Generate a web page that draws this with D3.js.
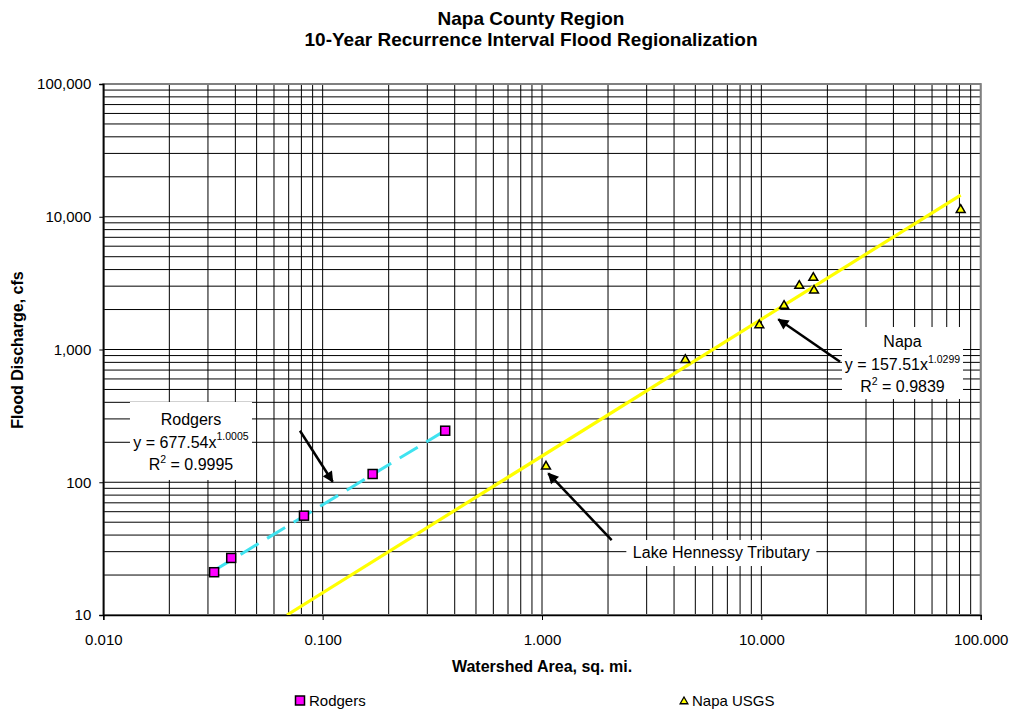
<!DOCTYPE html>
<html>
<head>
<meta charset="utf-8">
<script src="https://cdn.jsdelivr.net/npm/d3@7"></script>
<style>
  html, body { margin: 0; padding: 0; background: #fff; }
  svg { display: block; font-family: "Liberation Sans", Arial, sans-serif; }
</style>
</head>
<body>
<svg id="chart" width="1011" height="713"></svg>
<script>
// Watershed area (sq. mi.) and 10-year flood discharge (cfs)
const rodgersArea = [0.0320, 0.0383, 0.0822, 0.169, 0.362];
const rodgersQ    = [21.0, 26.9, 56.0, 115.4, 244.5];

const napaArea = [1.043, 4.50, 9.79, 12.69, 14.89, 17.25, 17.38, 81.05];
const napaQ    = [132.6, 843, 1538, 2153, 3045, 3499, 2806, 11376];

// Power-law fits  y = a * x^b
const rodgersFit = { a: 677.54, b: 1.0005, r2: "0.9995" };
const napaFit    = { a: 157.51, b: 1.0299, r2: "0.9839" };

const xTicks = [0.01, 0.1, 1, 10, 100];
const xTickLabels = ["0.010", "0.100", "1.000", "10.000", "100.000"];
const yTicks = [10, 100, 1000, 10000, 100000];
const yTickLabels = ["10", "100", "1,000", "10,000", "100,000"];

const svg = d3.select("#chart");
const plotL = 103.3, plotR = 980.7, plotT = 84, plotB = 615;

const x = d3.scaleLog().domain([0.01, 100]).range([plotL, plotR]);
const y = d3.scaleLog().domain([10, 100000]).range([plotB, plotT]);

// minor + major grid values
const gridVals = (lo, hi) => {
  const out = [];
  for (let d = lo; d < hi * 0.999; d *= 10)
    for (let k = 1; k <= 9; k++) out.push(d * k);
  out.push(hi);
  return out;
};

const defs = svg.append("defs");
defs.append("clipPath").attr("id", "plotClip")
  .append("rect").attr("x", plotL).attr("y", plotT)
  .attr("width", plotR - plotL).attr("height", plotB - plotT);
const arrow = defs.append("marker").attr("id", "arrowHead")
  .attr("viewBox", "0 0 10 10").attr("refX", 9).attr("refY", 5)
  .attr("markerWidth", 5).attr("markerHeight", 4.4)
  .attr("markerUnits", "strokeWidth").attr("orient", "auto");
arrow.append("path").attr("d", "M0,0 L10,5 L0,10 Z").attr("fill", "#000");

// Grid
const grid = svg.append("g");
grid.selectAll("line.v").data(gridVals(0.01, 100)).join("line")
  .attr("x1", d => x(d)).attr("x2", d => x(d))
  .attr("y1", plotT).attr("y2", plotB)
  .attr("stroke", "#000").attr("stroke-width", 1);
grid.selectAll("line.h").data(gridVals(10, 100000)).join("line")
  .attr("x1", plotL).attr("x2", plotR)
  .attr("y1", d => y(d)).attr("y2", d => y(d))
  .attr("stroke", "#000").attr("stroke-width", 1);

// Plot frame (top/right grey)
svg.append("rect").attr("x", plotL).attr("y", plotT)
  .attr("width", plotR - plotL).attr("height", plotB - plotT)
  .attr("fill", "none").attr("stroke", "#808080").attr("stroke-width", 2);

// Axes
const xAxis = d3.axisBottom(x).tickValues(xTicks)
  .tickFormat((d, i) => xTickLabels[i]).tickSize(5).tickPadding(14);
const yAxis = d3.axisLeft(y).tickValues(yTicks)
  .tickFormat((d, i) => yTickLabels[i]).tickSize(4).tickPadding(8);

const gx = svg.append("g").attr("transform", `translate(0,${plotB})`).call(xAxis);
const gy = svg.append("g").attr("transform", `translate(${plotL},0)`).call(yAxis);
[gx, gy].forEach(g => {
  g.select(".domain").attr("stroke", "#000").attr("stroke-width", 1.5);
  g.selectAll(".tick line").attr("stroke", "#000");
  g.selectAll(".tick text").attr("fill", "#000")
    .style("font-size", "15px").style("font-family", "Liberation Sans, Arial, sans-serif");
});

const plot = svg.append("g").attr("clip-path", "url(#plotClip)");

// Trend lines
const napaX0 = Math.pow(10 / napaFit.a, 1 / napaFit.b);
const napaLine = [napaX0, d3.max(napaArea)].map(v => [v, napaFit.a * Math.pow(v, napaFit.b)]);
plot.append("path")
  .attr("d", d3.line().x(d => x(d[0])).y(d => y(d[1]))(napaLine))
  .attr("fill", "none").attr("stroke", "#ffff00").attr("stroke-width", 3.2);

const rodLine = d3.extent(rodgersArea).map(v => [v, rodgersFit.a * Math.pow(v, rodgersFit.b)]);
plot.append("path")
  .attr("d", d3.line().x(d => x(d[0])).y(d => y(d[1]))(rodLine))
  .attr("fill", "none").attr("stroke", "#3fe3f0").attr("stroke-width", 3)
  .attr("stroke-dasharray", "21,10");

// Rodgers markers
const rodPts = rodgersArea.map((a, i) => [a, rodgersQ[i]]);
plot.selectAll("rect.rod").data(rodPts).join("rect")
  .attr("x", d => x(d[0]) - 4.5).attr("y", d => y(d[1]) - 4.5)
  .attr("width", 9).attr("height", 9)
  .attr("fill", "#ff00ff").attr("stroke", "#000").attr("stroke-width", 1.5);

// Napa markers
const tri = d3.symbol().type(d3.symbolTriangle).size(34);
const napaPts = napaArea.map((a, i) => [a, napaQ[i]]);
plot.selectAll("path.napa").data(napaPts).join("path")
  .attr("d", tri)
  .attr("transform", d => `translate(${x(d[0])},${y(d[1]) + 0.5})`)
  .attr("fill", "#ffff00").attr("stroke", "#000").attr("stroke-width", 1.5);

// Annotation boxes
function fitLabel(cx, cy, w, h, name, fit) {
  const g = svg.append("g");
  g.append("rect").attr("x", cx - w / 2).attr("y", cy - h / 2)
    .attr("width", w).attr("height", h).attr("fill", "#fff");
  const t = g.append("text").attr("text-anchor", "middle")
    .style("font-size", "16px").attr("fill", "#000");
  t.append("tspan").attr("x", cx).attr("y", cy - 16).text(name);
  const eq = g.append("text").attr("text-anchor", "middle")
    .attr("x", cx).attr("y", cy + 7).style("font-size", "16px");
  eq.append("tspan").text(`y = ${fit.a}x`);
  eq.append("tspan").attr("dy", -7.5).style("font-size", "10.5px").text(fit.b.toFixed(4));
  const r = g.append("text").attr("text-anchor", "middle")
    .attr("x", cx).attr("y", cy + 29).style("font-size", "16px");
  r.append("tspan").text("R");
  r.append("tspan").attr("dy", -7).style("font-size", "10.5px").text("2");
  r.append("tspan").attr("dy", 7).text(` = ${fit.r2}`);
}

fitLabel(x(0.0251), y(204.6), 122, 78, "Rodgers", rodgersFit);
fitLabel(x(44.0), y(791), 121, 72, "Napa", napaFit);

// Lake Hennessy label
const lh = svg.append("g");
const lhx = x(6.57), lhy = y(29.3);
lh.append("rect").attr("x", lhx - 95).attr("y", lhy - 13)
  .attr("width", 190).attr("height", 26).attr("fill", "#fff");
lh.append("text").attr("x", lhx).attr("y", lhy + 5).attr("text-anchor", "middle")
  .style("font-size", "16px").text("Lake Hennessy Tributary");

// Arrows (tail -> head, in data units)
const arrows = [
  [[0.0788, 244.5], [0.1111, 100.9]],
  [[22.84, 809], [11.95, 1688]],
  [[2.078, 36.7], [1.068, 116.8]]
];
svg.selectAll("line.arrow").data(arrows).join("line")
  .attr("x1", d => x(d[0][0])).attr("y1", d => y(d[0][1]))
  .attr("x2", d => x(d[1][0])).attr("y2", d => y(d[1][1]))
  .attr("stroke", "#000").attr("stroke-width", 2.5)
  .attr("marker-end", "url(#arrowHead)");

// Titles
const title = svg.append("text").attr("text-anchor", "middle")
  .style("font-size", "19px").style("font-weight", "bold");
title.append("tspan").attr("x", 531).attr("y", 25).text("Napa County Region");
title.append("tspan").attr("x", 531).attr("y", 46).text("10-Year Recurrence Interval Flood Regionalization");

svg.append("text").attr("x", 542).attr("y", 672).attr("text-anchor", "middle")
  .style("font-size", "16px").style("font-weight", "bold").text("Watershed Area, sq. mi.");
svg.append("text").attr("transform", "translate(23,350) rotate(-90)")
  .attr("text-anchor", "middle")
  .style("font-size", "16px").style("font-weight", "bold").text("Flood Discharge, cfs");

// Legend
const leg = svg.append("g");
leg.append("rect").attr("x", 295.5).attr("y", 696).attr("width", 9).attr("height", 9)
  .attr("fill", "#ff00ff").attr("stroke", "#000").attr("stroke-width", 1.5);
leg.append("text").attr("x", 309).attr("y", 706).style("font-size", "15px").text("Rodgers");
leg.append("path").attr("d", d3.symbol().type(d3.symbolTriangle).size(26))
  .attr("transform", "translate(684,701.5)")
  .attr("fill", "#ffff00").attr("stroke", "#000").attr("stroke-width", 1.3);
leg.append("text").attr("x", 692).attr("y", 706).style("font-size", "15px").text("Napa USGS");
</script>
</body>
</html>
